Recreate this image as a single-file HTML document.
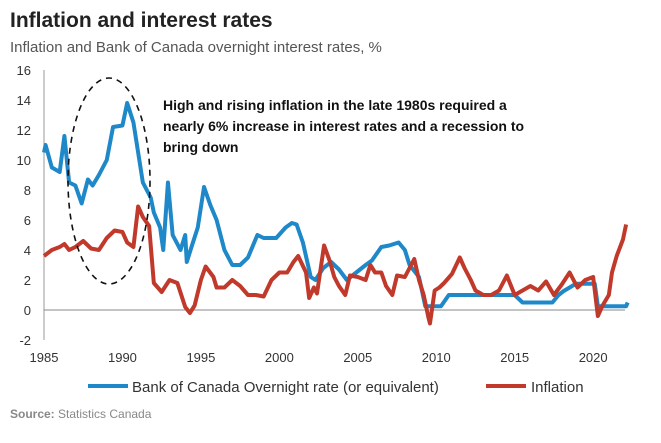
<!DOCTYPE html>
<html><head><meta charset="utf-8"><style>
body{margin:0;background:#fff;font-family:"Liberation Sans",Arial,sans-serif}
svg text{font-family:"Liberation Sans",Arial,sans-serif}
</style></head><body>
<svg id="c" width="661" height="438">
<text x="10" y="27" font-size="21" font-weight="bold" fill="#222">Inflation and interest rates</text>
<text x="10" y="52" font-size="15" fill="#555">Inflation and Bank of Canada overnight interest rates, %</text>
<g id="axes"></g>
<g id="series"></g>
<ellipse cx="109" cy="181" rx="41" ry="103" fill="none" stroke="#111" stroke-width="1.6" stroke-dasharray="6,5"/>
<text font-size="14" font-weight="bold" fill="#111"><tspan x="163" y="110">High and rising inflation in the late 1980s  required a</tspan><tspan x="163" y="131">nearly 6% increase in interest rates and a recession to</tspan><tspan x="163" y="152">bring down</tspan></text>
<line x1="88" y1="386" x2="128" y2="386" stroke="#1e88c8" stroke-width="4"/>
<text x="132" y="392" font-size="15" fill="#333">Bank of Canada Overnight rate (or equivalent)</text>
<line x1="486" y1="386" x2="526" y2="386" stroke="#c0392b" stroke-width="4"/>
<text x="531" y="392" font-size="15" fill="#333">Inflation</text>
<text x="10" y="418" font-size="12" fill="#888"><tspan font-weight="bold">Source:</tspan> Statistics Canada</text>
</svg>
<script>
const yTicks=[-2,0,2,4,6,8,10,12,14,16];
const xTicks=[1985,1990,1995,2000,2005,2010,2015,2020];
const rateYears=[1985,1985.1,1985.5,1986,1986.3,1986.6,1987,1987.4,1987.8,1988.1,1988.5,1989,1989.4,1990,1990.3,1990.7,1991,1991.3,1991.8,1992,1992.4,1992.6,1992.9,1993.2,1993.7,1994,1994.1,1994.4,1994.8,1995.2,1995.6,1996,1996.5,1997,1997.5,1998,1998.6,1999,1999.8,2000.4,2000.8,2001.1,2001.5,2002,2002.3,2002.8,2003.3,2003.8,2004.3,2004.9,2005.5,2005.9,2006.5,2007,2007.6,2008,2008.3,2008.9,2009.3,2010.3,2010.8,2015,2015.5,2017.4,2017.8,2018.1,2018.9,2020.1,2020.3,2022.1,2022.2];
const rateVals=[10.5,11,9.5,9.2,11.6,8.5,8.3,7.1,8.7,8.3,9,10,12.2,12.3,13.8,12.5,10.5,8.5,7.5,6.5,5.5,4,8.5,5,4,5,3.2,4.2,5.5,8.2,7,6,4,3,3,3.5,5,4.8,4.8,5.5,5.8,5.7,4.5,2.2,2,2.8,3.2,2.7,2,2.5,3,3.3,4.2,4.3,4.5,4,3,2.2,0.25,0.25,1,1,0.5,0.5,1,1.25,1.75,1.75,0.25,0.25,0.5];
const inflYears=[1985,1985.5,1986,1986.3,1986.6,1987,1987.5,1988,1988.5,1989,1989.5,1990,1990.3,1990.7,1991,1991.3,1991.7,1992,1992.5,1993,1993.5,1994,1994.3,1994.6,1995,1995.3,1995.8,1996,1996.5,1997,1997.5,1998,1998.5,1999,1999.5,2000,2000.5,2000.9,2001.2,2001.7,2001.9,2002.2,2002.4,2002.85,2003.2,2003.5,2003.8,2004.2,2004.5,2005,2005.5,2005.8,2006.1,2006.5,2006.8,2007.2,2007.5,2008,2008.6,2008.9,2009.2,2009.5,2009.6,2009.9,2010.2,2010.5,2011,2011.5,2011.8,2012.2,2012.5,2013,2013.5,2014,2014.5,2015,2015.5,2016,2016.5,2017,2017.5,2018,2018.5,2019,2019.5,2020,2020.3,2020.6,2021,2021.2,2021.5,2021.9,2022.1];
const inflVals=[3.6,4,4.2,4.4,4,4.2,4.6,4.1,4,4.8,5.3,5.2,4.5,4.2,6.9,6.2,5.6,1.8,1.2,2,1.8,0.2,-0.2,0.3,2,2.9,2.2,1.5,1.5,2,1.6,1,1,0.9,2,2.5,2.5,3.2,3.6,2.5,0.8,1.5,1.1,4.3,3.3,2.2,1.6,1,2.3,2.2,2,3,2.5,2.5,1.6,1,2.3,2.2,3.4,2,1,-0.5,-0.9,1.3,1.5,1.8,2.4,3.5,2.8,2,1.3,1,1,1.3,2.3,1,1.3,1.6,1.3,1.9,1,1.7,2.5,1.5,2,2.2,-0.4,0.3,1,2.5,3.6,4.7,5.7];
const X=y=>44+(y-1985)*15.69, Y=v=>310-v*15;
const NS="http://www.w3.org/2000/svg";
const ax=document.getElementById('axes'), se=document.getElementById('series');
function mk(t,a,p){const e=document.createElementNS(NS,t);for(const k in a)e.setAttribute(k,a[k]);p.appendChild(e);return e;}
let v=mk('line',{x1:44,y1:Y(16),x2:44,y2:Y(-2),stroke:'#999'},ax);


let h=mk('line',{x1:44,y1:Y(0),x2:625,y2:Y(0),stroke:'#888'},ax);


yTicks.forEach(t=>{const e=mk('text',{x:31,y:Y(t)+5,'font-size':13,'text-anchor':'end',fill:'#333'},ax);e.textContent=t;

});
xTicks.forEach(t=>{const e=mk('text',{x:X(t),y:362,'font-size':13,'text-anchor':'middle',fill:'#333'},ax);e.textContent=t;

});
function line(xs,vs,col,name){const p=mk('polyline',{points:xs.map((x,i)=>X(x)+','+Y(vs[i])).join(' '),fill:'none',stroke:col,'stroke-width':4,'stroke-linejoin':'round'},se);

}
line(rateYears,rateVals,'#1e88c8','rate-line');
line(inflYears,inflVals,'#c0392b','inflation-line');
</script>
</body></html>
